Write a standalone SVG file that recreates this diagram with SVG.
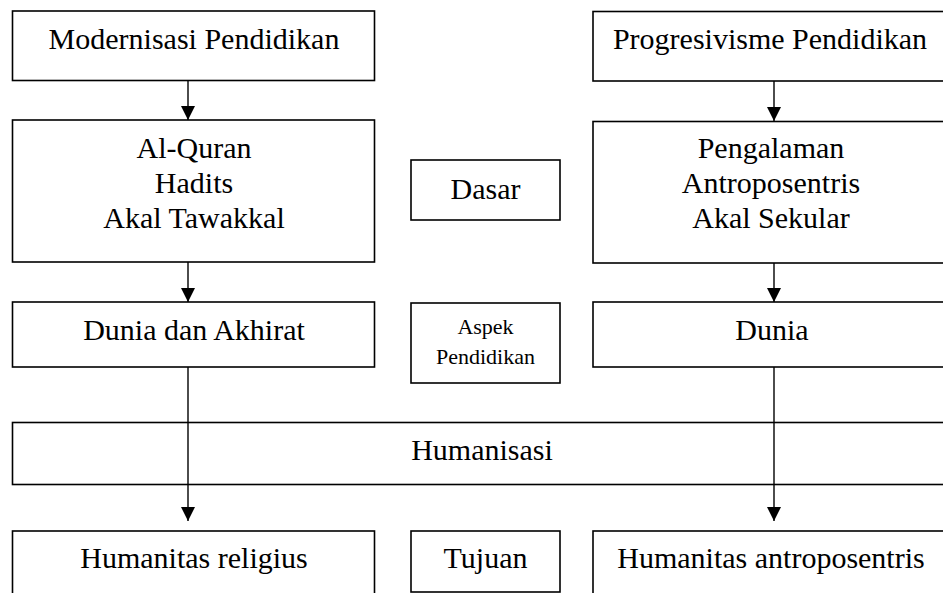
<svg xmlns="http://www.w3.org/2000/svg" width="943" height="593" viewBox="0 0 943 593">
<style>
.box{fill:#fff;stroke:#000;stroke-width:1.6}
.t{font-family:"Liberation Serif","Times New Roman",serif;font-size:30px;fill:#000;text-anchor:middle}
.s{font-family:"Liberation Serif","Times New Roman",serif;font-size:22px;fill:#000;text-anchor:middle}
.c{stroke:#000;stroke-width:1.4;fill:none;marker-end:url(#ah)}
</style>
<defs>
<marker id="ah" viewBox="0 0 14 14" refX="14" refY="7" markerWidth="14" markerHeight="14" markerUnits="userSpaceOnUse" orient="auto">
<path d="M0,0 L14,7 L0,14 Z" fill="#000"/>
</marker>
</defs>
<rect width="943" height="593" fill="#fff"/>
<g id="humanisasi"><rect class="box" x="12.5" y="422.5" width="945" height="62"/><text class="t" x="482" y="459.5">Humanisasi</text></g>
<g id="connectors">
<line class="c" x1="188" y1="80.5" x2="188" y2="120"/>
<line class="c" x1="774" y1="81" x2="774" y2="121"/>
<line class="c" x1="188" y1="262" x2="188" y2="302"/>
<line class="c" x1="774" y1="263" x2="774" y2="302"/>
<line class="c" x1="188" y1="367" x2="188" y2="521"/>
<line class="c" x1="774" y1="367" x2="774" y2="521"/>
</g>
<g id="modernisasi"><rect class="box" x="12.5" y="11" width="362" height="69.5"/><text class="t" x="194" y="48.5">Modernisasi Pendidikan</text></g>
<g id="progresivisme"><rect class="box" x="593" y="11.5" width="362" height="69.5"/><text class="t" x="770" y="48.5">Progresivisme Pendidikan</text></g>
<g id="dasar-islam"><rect class="box" x="12.5" y="120" width="362" height="142"/><text class="t" x="194" y="157.5">Al-Quran</text><text class="t" x="194" y="192.5">Hadits</text><text class="t" x="194" y="227.5">Akal Tawakkal</text></g>
<g id="dasar"><rect class="box" x="411" y="160" width="149" height="60"/><text class="t" x="485.5" y="198.5">Dasar</text></g>
<g id="dasar-progresif"><rect class="box" x="593" y="121.5" width="362" height="141.5"/><text class="t" x="771" y="157.5">Pengalaman</text><text class="t" x="771" y="192.5">Antroposentris</text><text class="t" x="771" y="227.5">Akal Sekular</text></g>
<g id="dunia-akhirat"><rect class="box" x="12.5" y="302" width="362" height="65"/><text class="t" x="194" y="340">Dunia dan Akhirat</text></g>
<g id="aspek"><rect class="box" x="411" y="303" width="149" height="80"/><text class="s" x="485.5" y="334">Aspek</text><text class="s" x="485.5" y="364">Pendidikan</text></g>
<g id="dunia"><rect class="box" x="593" y="302" width="362" height="65"/><text class="t" x="772" y="340">Dunia</text></g>
<g id="humanitas-religius"><rect class="box" x="12.5" y="531" width="362" height="80"/><text class="t" x="194" y="567.5">Humanitas religius</text></g>
<g id="tujuan"><rect class="box" x="411" y="531" width="149" height="61"/><text class="t" x="485.5" y="567.5">Tujuan</text></g>
<g id="humanitas-antroposentris"><rect class="box" x="593" y="531" width="362" height="80"/><text class="t" x="771" y="567.5">Humanitas antroposentris</text></g>
</svg>
